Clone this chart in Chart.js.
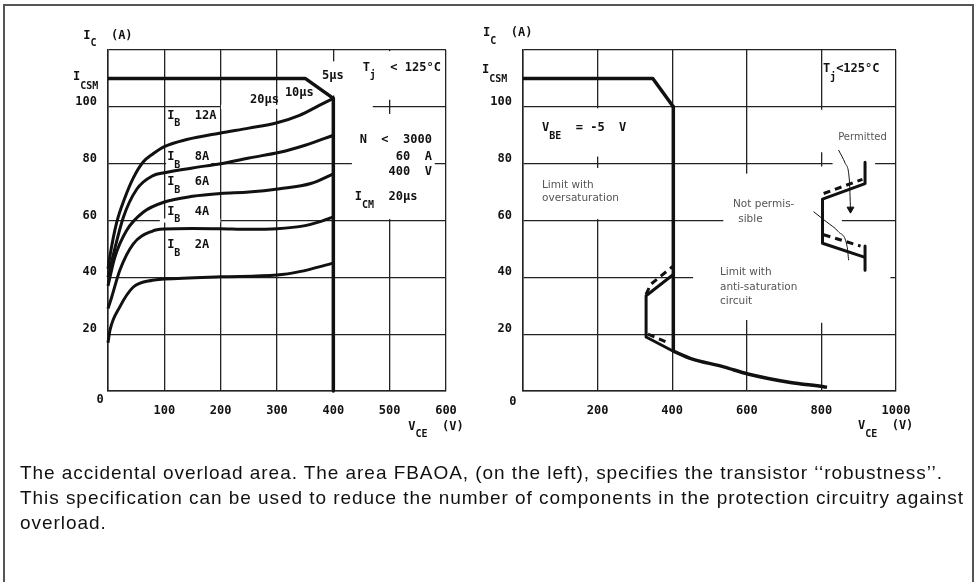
<!DOCTYPE html>
<html>
<head>
<meta charset="utf-8">
<script src="https://cdn.jsdelivr.net/npm/chart.js@4.4.0/dist/chart.umd.min.js"></script>
<style>
  html, body { margin: 0; padding: 0; background: #fff; }
  #page { position: relative; width: 977px; height: 582px; overflow: hidden; background: #fff; }
  #frame { position: absolute; left: 3px; top: 4px; width: 967px; height: 600px; border: 2px solid #555; border-bottom: none; }
  #left { position: absolute; left: 0; top: 0; }
  #right { position: absolute; left: 465px; top: 0; }
  #caption {
    position: absolute; left: 20px; top: 460px; white-space: nowrap;
    font-family: "Liberation Sans", Arial, sans-serif;
    font-size: 19px; line-height: 25px; letter-spacing: 0.95px; color: #111;
  }
</style>
</head>
<body>
<div id="page">
  <canvas id="left" width="490" height="440"></canvas>
  <canvas id="right" width="512" height="440"></canvas>
  <div id="frame"></div>
  <div id="caption">The accidental overload area. The area FBAOA, (on the left), specifies the transistor ‘‘robustness’’.<br>This specification can be used to reduce the number of components in the protection circuitry against<br>overload.</div>
</div>
<script>
// ---- eixos ----
const leftXTicks = [100, 200, 300, 400, 500, 600];
const rightXTicks = [200, 400, 600, 800, 1000];
const yTicks = [20, 40, 60, 80, 100];

// ---- grafico da esquerda (FBAOA) ----
const icsmLeftV = [0, 350, 400];
const icsmLeftI = [110, 110, 103];
const limitLeftV = [400, 400];
const limitLeftI = [103, 0];

const ib12V = [0, 3, 15, 30, 45, 62, 80, 100, 140, 200, 250, 300, 340, 375, 400];
const ib12I = [43, 47, 59, 68, 75, 80.5, 83.5, 86, 88.5, 90.8, 92.5, 94.4, 97, 100.5, 103];
const ib8V = [0, 9.5, 27, 51, 80, 100, 150, 200, 250, 305, 350, 400];
const ib8I = [40, 48, 61, 71, 75.8, 76.8, 78.5, 80, 82, 84, 86.5, 90];
const ib6V = [0, 12, 33, 63, 100, 150, 200, 250, 305, 360, 400];
const ib6I = [37, 47, 56.5, 63, 66.5, 68.5, 69.5, 70, 71.2, 73, 76.4];
const ib4V = [0, 6.5, 21, 45, 79, 100, 150, 200, 250, 300, 350, 375, 400];
const ib4I = [29, 33, 42.5, 51.8, 56.3, 57, 57.2, 57.1, 56.9, 57.1, 58.2, 59.5, 61.3];
const ib2V = [0, 3.5, 21, 45, 79, 100, 200, 300, 340, 400];
const ib2I = [17, 21.4, 29.6, 36.6, 39, 39.4, 40.2, 40.8, 42, 45];

// ---- grafico da direita ----
const icsmRightV = [0, 348, 403];
const icsmRightI = [110, 110, 100];
const overV = [403, 403];
const overI = [100, 14];
const antiV = [403, 330, 330, 403];
const antiI = [41, 33.5, 19, 14];
const tailV = [403, 448, 538, 603, 717, 806, 815];
const tailI = [14, 11.5, 8.5, 6, 3, 1.5, 1.3];
const antiDashUpV = [330, 342, 403];
const antiDashUpI = [34, 37.5, 44];
const antiDashLoV = [335, 392];
const antiDashLoI = [20, 16.8];

// legenda desenhada (permitido / nao permitido)
const keySolidV = [917, 917, 803, 803, 917];
const keySolidI = [80.5, 73, 67.5, 52, 47];
const keySolid2V = [917, 917];
const keySolid2I = [51, 42.5];
const keyDashUpV = [806, 910];
const keyDashUpI = [69.5, 74.5];
const keyDashLoV = [806, 905];
const keyDashLoI = [55, 51];
const permitArrowV = [846, 864, 875, 878];
const permitArrowI = [84.8, 80.1, 74.2, 64];
const notPermV = [779, 815, 846, 869, 873];
const notPermI = [63.1, 59.4, 56, 50.8, 46];

// trechos da grade que ficam em branco no original
const leftGaps = [
  { axis: 'x', at: 500, from: 60.5, to: 97.5 },
  { axis: 'x', at: 500, from: 102.5, to: 119.6 },
  { axis: 'x', at: 400, from: 104, to: 116 },
  { axis: 'y', at: 100, from: 200.5, to: 470 },
  { axis: 'y', at: 80, from: 433, to: 580 },
  { axis: 'y', at: 60, from: 92, to: 199.5 }
];
const rightGaps = [
  { axis: 'x', at: 200, from: 60.5, to: 78.5 },
  { axis: 'x', at: 200, from: 82.5, to: 99.5 },
  { axis: 'x', at: 600, from: 25, to: 76.5 },
  { axis: 'x', at: 800, from: 24, to: 79 },
  { axis: 'x', at: 800, from: 84, to: 99 },
  { axis: 'y', at: 80, from: 830, to: 944 },
  { axis: 'y', at: 60, from: 537, to: 855 },
  { axis: 'y', at: 40, from: 456, to: 985 }
];

// textos (posicao em unidades do grafico; '_' = subscrito)
const leftLabels = [
  { v: -44, i: 125, parts: ['I', '_C', '  (A)'] },
  { v: 533, i: -12.5, parts: ['V', '_CE', '  (V)'] },
  { v: -14, i: -3.2, parts: ['0'], align: 'center' },
  { v: -62, i: 110.7, parts: ['I', '_CSM'], subDrop: 10 },
  { v: 105, i: 96.9, parts: ['I', '_B', '  12A'], bg: true },
  { v: 105, i: 82.3, parts: ['I', '_B', '  8A'], bg: true },
  { v: 105, i: 73.5, parts: ['I', '_B', '  6A'], bg: true },
  { v: 105, i: 63.1, parts: ['I', '_B', '  4A'], bg: true },
  { v: 105, i: 51.4, parts: ['I', '_B', '  2A'], bg: true },
  { v: 252, i: 102.4, parts: ['20µs'] },
  { v: 314, i: 104.9, parts: ['10µs'] },
  { v: 380, i: 110.8, parts: ['5µs'] },
  { v: 452, i: 113.7, parts: ['T', '_j', '  < 125°C'] },
  { v: 575, i: 88.3, parts: ['N  <  3000'], align: 'right' },
  { v: 575, i: 82.3, parts: ['60  A'], align: 'right' },
  { v: 575, i: 77, parts: ['400  V'], align: 'right' },
  { v: 438, i: 68.3, parts: ['I', '_CM', '  20µs'] }
];
const rightLabels = [
  { v: -107, i: 126, parts: ['I', '_C', '  (A)'] },
  { v: 898, i: -12.4, parts: ['V', '_CE', '  (V)'] },
  { v: -27, i: -3.9, parts: ['0'], align: 'center' },
  { v: -110, i: 113, parts: ['I', '_CSM'], subDrop: 10 },
  { v: 51, i: 92.5, parts: ['V', '_BE', '  = -5  V'] },
  { v: 804, i: 113.3, parts: ['T', '_j', '<125°C'] },
  { v: 845, i: 89.4, parts: ['Permitted'], light: true, size: 10 },
  { v: 51, i: 72.5, parts: ['Limit with'], light: true },
  { v: 51, i: 67.9, parts: ['oversaturation'], light: true },
  { v: 563, i: 65.8, parts: ['Not permis-'], light: true },
  { v: 577, i: 60.5, parts: ['sible'], light: true },
  { v: 528, i: 41.9, parts: ['Limit with'], light: true },
  { v: 528, i: 36.6, parts: ['anti-saturation'], light: true },
  { v: 528, i: 31.7, parts: ['circuit'], light: true }
];

const MONO = '"DejaVu Sans Mono", "Liberation Mono", monospace';
const LIGHT = '"DejaVu Sans", "Liberation Sans", sans-serif';
const INK = '#111';
const GRID = '#222';

function pts(vs, is) {
  return vs.map((v, k) => ({ x: v, y: is[k] }));
}

function serie(vs, is, opts = {}) {
  const last = vs.length - 1;
  return {
    data: pts(vs, is),
    showLine: true,
    borderColor: INK,
    backgroundColor: INK,
    borderWidth: opts.width || 3,
    borderDash: opts.dash || [],
    borderCapStyle: 'butt',
    borderJoinStyle: 'round',
    cubicInterpolationMode: opts.smooth ? 'monotone' : 'default',
    tension: 0,
    pointStyle: 'triangle',
    pointRotation: 180,
    pointRadius: opts.arrow ? (c) => (c.dataIndex === last ? 4 : 0) : 0,
    pointBackgroundColor: INK,
    pointBorderColor: INK,
    clip: 6
  };
}

function drawLabel(ctx, x, y, lab) {
  const size = lab.size || (lab.light ? 10.5 : 12);
  const weight = lab.light ? 'normal' : 'bold';
  const family = lab.light ? LIGHT : MONO;
  const color = lab.light ? '#555' : INK;
  const mainFont = `${weight} ${size}px ${family}`;
  const subFont = `${weight} ${Math.round(size * 0.85)}px ${family}`;
  const drop = lab.subDrop || 8;
  const parts = lab.parts.map(p => p.startsWith('_')
    ? { t: p.slice(1), f: subFont, dy: drop }
    : { t: p, f: mainFont, dy: 0 });
  let w = 0;
  parts.forEach(p => { ctx.font = p.f; p.w = ctx.measureText(p.t).width; w += p.w; });
  if (lab.align === 'right') x -= w;
  else if (lab.align === 'center') x -= w / 2;
  if (lab.bg) {
    ctx.fillStyle = '#fff';
    ctx.fillRect(x - 1, y - size * 0.6, w + 3, size * 1.2 + drop);
  }
  ctx.fillStyle = color;
  ctx.textAlign = 'left';
  ctx.textBaseline = 'middle';
  parts.forEach(p => { ctx.font = p.f; ctx.fillText(p.t, x, y + p.dy); x += p.w; });
}

function makeOverlay(cfg) {
  return {
    id: 'overlay',
    beforeDatasetsDraw(chart) {
      const { ctx, chartArea: area, scales: { x, y } } = chart;
      ctx.save();
      // apaga os trechos da grade
      ctx.fillStyle = '#fff';
      cfg.gaps.forEach(g => {
        if (g.axis === 'x') {
          const px = x.getPixelForValue(g.at);
          const y0 = y.getPixelForValue(g.to), y1 = y.getPixelForValue(g.from);
          ctx.fillRect(px - 2, y0, 4, y1 - y0);
        } else {
          const py = y.getPixelForValue(g.at);
          const x0 = x.getPixelForValue(g.from), x1 = x.getPixelForValue(g.to);
          ctx.fillRect(x0, py - 2, x1 - x0, 4);
        }
      });
      // rotulos dos eixos
      ctx.fillStyle = INK;
      ctx.font = `bold 12px ${MONO}`;
      ctx.textBaseline = 'middle';
      ctx.textAlign = 'right';
      yTicks.forEach(t => ctx.fillText(String(t), area.left - 11, y.getPixelForValue(t) - 5));
      ctx.textAlign = 'center';
      cfg.xTicks.forEach(t => ctx.fillText(String(t), x.getPixelForValue(t), area.bottom + 20));
      // anotacoes
      cfg.labels.forEach(l => drawLabel(ctx, x.getPixelForValue(l.v), y.getPixelForValue(l.i), l));
      ctx.restore();
    }
  };
}

function axis(max, step) {
  return {
    type: 'linear',
    min: 0,
    max: max,
    ticks: { display: false, stepSize: step },
    grid: { color: GRID, lineWidth: 1.3, drawTicks: false },
    border: { display: true, color: GRID, width: 1.5 },
    afterFit: (s) => { if (s.isHorizontal()) s.height = 0; else s.width = 0; }
  };
}

function makeChart(id, datasets, xMax, xStep, padding, overlayCfg) {
  return new Chart(document.getElementById(id), {
    type: 'scatter',
    data: { datasets },
    options: {
      responsive: false,
      animation: false,
      devicePixelRatio: 1,
      events: [],
      layout: { padding },
      plugins: { legend: { display: false }, tooltip: { enabled: false } },
      scales: { x: axis(xMax, xStep), y: axis(120, 20) }
    },
    plugins: [makeOverlay(overlayCfg)]
  });
}

makeChart('left', [
  serie(icsmLeftV, icsmLeftI, { width: 3.5 }),
  serie(limitLeftV, limitLeftI, { width: 3.5 }),
  serie(ib12V, ib12I, { smooth: true }),
  serie(ib8V, ib8I, { smooth: true }),
  serie(ib6V, ib6I, { smooth: true }),
  serie(ib4V, ib4I, { smooth: true }),
  serie(ib2V, ib2I, { smooth: true })
], 600, 100, { left: 108, top: 50, right: 44, bottom: 49 },
  { gaps: leftGaps, labels: leftLabels, xTicks: leftXTicks });

makeChart('right', [
  serie(icsmRightV, icsmRightI, { width: 3.5 }),
  serie(overV, overI, { width: 3.5 }),
  serie(antiV, antiI),
  serie(tailV, tailI, { smooth: true, width: 3.5 }),
  serie(antiDashUpV, antiDashUpI, { dash: [7, 5] }),
  serie(antiDashLoV, antiDashLoI, { dash: [7, 5] }),
  serie(keySolidV, keySolidI),
  serie(keySolid2V, keySolid2I),
  serie(keyDashUpV, keyDashUpI, { dash: [7, 5] }),
  serie(keyDashLoV, keyDashLoI, { dash: [7, 5] }),
  serie(permitArrowV, permitArrowI, { smooth: true, width: 1, arrow: true }),
  serie(notPermV, notPermI, { smooth: true, width: 1 })
], 1000, 200, { left: 58, top: 50, right: 81, bottom: 49 },
  { gaps: rightGaps, labels: rightLabels, xTicks: rightXTicks });
</script>
</body>
</html>
